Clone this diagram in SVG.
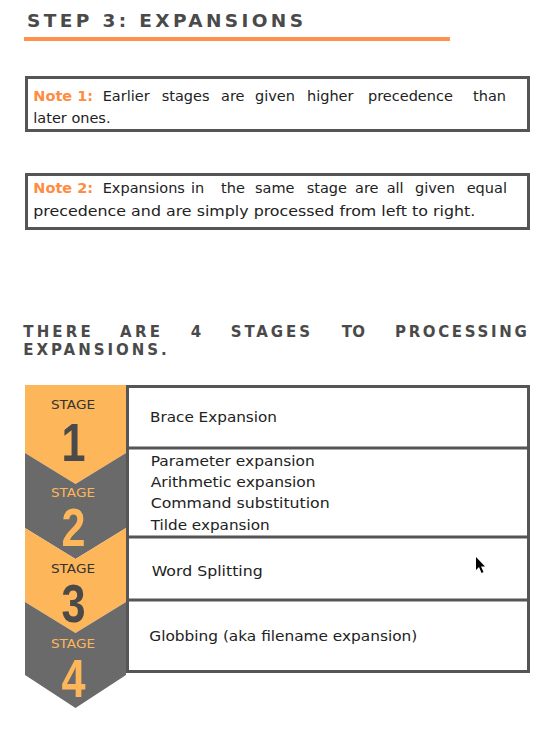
<svg xmlns="http://www.w3.org/2000/svg" width="550" height="729" viewBox="0 0 550 729">
  <style>
    .title { font-family: "DejaVu Sans", "Liberation Sans", sans-serif; font-weight: 700; font-size: 18.5px; fill: #4a4a4a; }
    .note { font-family: "DejaVu Sans", "Liberation Sans", sans-serif; font-size: 14.5px; fill: #222; }
    .label { fill: #ff8c42; font-weight: 700; }
    .box { fill: #fff; stroke: #555; stroke-width: 3; }
    .head { font-family: "DejaVu Sans", "Liberation Sans", sans-serif; font-weight: 700; font-size: 15px; fill: #4a4a4a; }
    .orange { fill: #fdb65a; }
    .grey { fill: #6a6a6a; }
    .stg { font-family: "DejaVu Sans", "Liberation Sans", sans-serif; font-size: 11.5px; }
    .num { font-family: "Liberation Sans", "Arial", sans-serif; font-weight: 700; font-size: 54px; text-anchor: middle; }
    .dark { fill: #4a4a4a; }
    .ink { fill: #333; }
    .gold { fill: #fdb65a; }
    .row { font-family: "DejaVu Sans", "Liberation Sans", sans-serif; font-size: 14px; fill: #222; }
    .rule { stroke: #555; stroke-width: 3; }
  </style>
  <rect width="550" height="729" fill="#fff"/>

  <!-- page title with orange rule -->
  <g id="title">
    <text class="title" x="27" y="26.7" textLength="276" lengthAdjust="spacing">STEP 3: EXPANSIONS</text>
    <rect x="24" y="37" width="426" height="4" fill="#ff914d"/>
  </g>

  <!-- note boxes -->
  <g id="note1">
    <rect class="box" x="26.5" y="77.5" width="502" height="53"/>
    <text class="note" y="100.7"><tspan class="label" x="33.3">Note 1:</tspan><tspan x="102.7">Earlier</tspan><tspan x="161.7">stages</tspan><tspan x="221">are</tspan><tspan x="255">given</tspan><tspan x="307">higher</tspan><tspan x="368">precedence</tspan><tspan x="473">than</tspan></text>
    <text class="note" x="33.3" y="123.3">later ones.</text>
  </g>
  <g id="note2">
    <rect class="box" x="26.5" y="174.5" width="502" height="54"/>
    <text class="note" y="193"><tspan class="label" x="33.3">Note 2:</tspan><tspan x="102.7">Expansions</tspan><tspan x="191">in</tspan><tspan x="221">the</tspan><tspan x="255">same</tspan><tspan x="306.7">stage</tspan><tspan x="355">are</tspan><tspan x="386.7">all</tspan><tspan x="415">given</tspan><tspan x="466.7">equal</tspan></text>
    <text class="note" x="33.3" y="216" textLength="442" lengthAdjust="spacingAndGlyphs">precedence and are simply processed from left to right.</text>
  </g>

  <!-- section heading, justified word by word -->
  <g id="heading">
    <text class="head" x="23.3" y="336.7" textLength="67.4" lengthAdjust="spacing">THERE</text>
    <text class="head" x="120" y="336.7" textLength="40" lengthAdjust="spacing">ARE</text>
    <text class="head" x="190.7" y="336.7">4</text>
    <text class="head" x="230.7" y="336.7" textLength="79.3" lengthAdjust="spacing">STAGES</text>
    <text class="head" x="341.7" y="336.7" textLength="23.3" lengthAdjust="spacing">TO</text>
    <text class="head" x="395" y="336.7" textLength="131.7" lengthAdjust="spacing">PROCESSING</text>
    <text class="head" x="23.3" y="355" textLength="143.4" lengthAdjust="spacing">EXPANSIONS.</text>
  </g>

  <!-- stage chevrons -->
  <g id="stage1">
    <polygon class="orange" points="25,385 126,385 126,453 75.5,484 25,453"/>
    <text class="stg ink" x="51" y="409" textLength="44" lengthAdjust="spacingAndGlyphs">STAGE</text>
    <text class="num dark" transform="translate(73.5,461) scale(0.8,1)">1</text>
  </g>
  <g id="stage2">
    <polygon class="grey" points="25,453 75.5,484 126,453 126,528 75.5,559 25,528"/>
    <text class="stg gold" x="51" y="497" textLength="44" lengthAdjust="spacingAndGlyphs">STAGE</text>
    <text class="num gold" transform="translate(73.5,546) scale(0.8,1)">2</text>
  </g>
  <g id="stage3">
    <polygon class="orange" points="25,528 75.5,559 126,528 126,602 75.5,633 25,602"/>
    <text class="stg ink" x="51" y="572.5" textLength="44" lengthAdjust="spacingAndGlyphs">STAGE</text>
    <text class="num dark" transform="translate(73.5,622) scale(0.8,1)">3</text>
  </g>
  <g id="stage4">
    <polygon class="grey" points="25,602 75.5,633 126,602 126,675 75.5,708 25,675"/>
    <text class="stg gold" x="51" y="648" textLength="44" lengthAdjust="spacingAndGlyphs">STAGE</text>
    <text class="num gold" transform="translate(73.5,697) scale(0.8,1)">4</text>
  </g>

  <!-- stage table -->
  <g id="table">
    <rect class="box" x="127.5" y="386.5" width="401" height="285"/>
    <line class="rule" x1="127.5" y1="448" x2="528.5" y2="448"/>
    <line class="rule" x1="127.5" y1="537" x2="528.5" y2="537"/>
    <line class="rule" x1="127.5" y1="600" x2="528.5" y2="600"/>
  </g>
  <g id="row1">
    <text class="row" x="150" y="421.7" textLength="127" lengthAdjust="spacingAndGlyphs">Brace Expansion</text>
  </g>
  <g id="row2">
    <text class="row" x="150.7" y="466" textLength="164" lengthAdjust="spacingAndGlyphs">Parameter expansion</text>
    <text class="row" x="150.7" y="487.3" textLength="165" lengthAdjust="spacingAndGlyphs">Arithmetic expansion</text>
    <text class="row" x="150.7" y="508.3" textLength="179" lengthAdjust="spacingAndGlyphs">Command substitution</text>
    <text class="row" x="150.7" y="530" textLength="119" lengthAdjust="spacingAndGlyphs">Tilde expansion</text>
  </g>
  <g id="row3">
    <text class="row" x="151.7" y="575.7" textLength="111" lengthAdjust="spacingAndGlyphs">Word Splitting</text>
  </g>
  <g id="row4">
    <text class="row" x="149.3" y="641" textLength="268" lengthAdjust="spacingAndGlyphs">Globbing (aka filename expansion)</text>
  </g>

  <!-- pointer -->
  <g id="pointer">
    <polygon points="476,557 476,570 479,567 481.5,573 483.5,572 481,566.5 485,566.5" fill="#000"/>
  </g>
</svg>
